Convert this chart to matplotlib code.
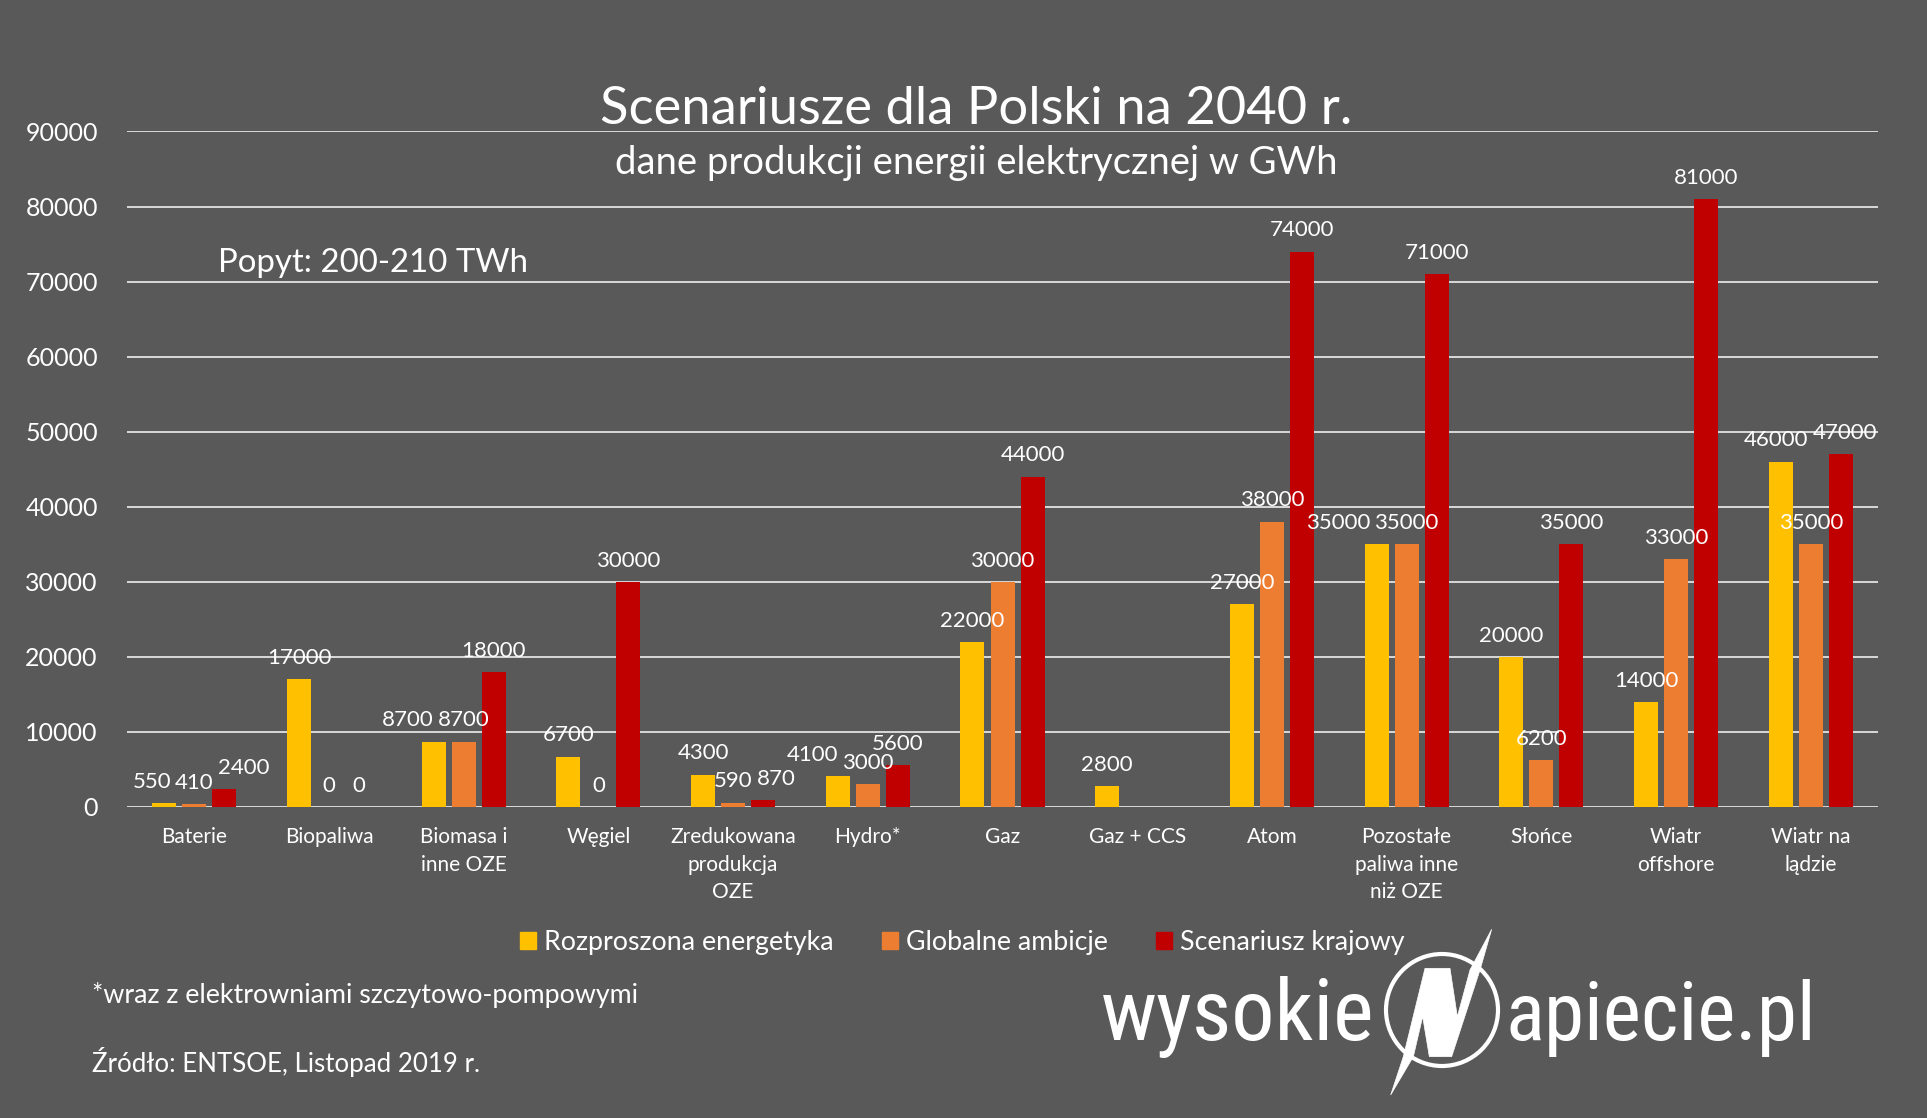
import numpy as np
import matplotlib
matplotlib.use('Agg')
import matplotlib.pyplot as plt
from matplotlib import font_manager
from matplotlib.patches import Patch, Ellipse, Polygon

categories = ['Baterie', 'Biopaliwa', 'Biomasa i\ninne OZE', 'Węgiel',
              'Zredukowana\nprodukcja\nOZE', 'Hydro*', 'Gaz', 'Gaz + CCS',
              'Atom', 'Pozostałe\npaliwa inne\nniż OZE', 'Słońce',
              'Wiatr\noffshore', 'Wiatr na\nlądzie']
series_names = ['Rozproszona energetyka', 'Globalne ambicje', 'Scenariusz krajowy']
rozproszona = [550, 17000, 8700, 6700, 4300, 4100, 22000, 2800, 27000,
               35000, 20000, 14000, 46000]
globalne = [410, 0, 8700, 0, 590, 3000, 30000, np.nan, 38000,
            35000, 6200, 33000, 35000]
krajowy = [2400, 0, 18000, 30000, 870, 5600, 44000, np.nan, 74000,
           71000, 35000, 81000, 47000]
y_ticks = [0, 10000, 20000, 30000, 40000, 50000, 60000, 70000, 80000, 90000]

BG = '#595959'
COLORS = ['#FFC000', '#ED7D31', '#C00000']
GRID = '#D9D9D9'
FONT = 'Lato'

names = {f.name for f in font_manager.fontManager.ttflist}
logo_font, logo_stretch = 'Roboto', 'normal'
for cand in ('Liberation Sans Narrow', 'Roboto Condensed', 'Open Sans Condensed'):
    if cand in names:
        logo_font = cand
        break
else:
    if any(f.name == 'DejaVu Sans' and f.stretch == 'condensed'
           for f in font_manager.fontManager.ttflist):
        logo_font, logo_stretch = 'DejaVu Sans', 'condensed'

plt.rcParams['font.family'] = [FONT, 'DejaVu Sans']

fig = plt.figure(figsize=(19.27, 11.18), dpi=100, facecolor=BG)
ax = fig.add_axes([0.0659, 0.2782, 0.9087, 0.6042])
ax.set_facecolor(BG)

x = np.arange(len(categories))
width = 0.178
step = 0.223
series = [rozproszona, globalne, krajowy]

labels = [[None] * 3 for _ in categories]
for k, (vals, c) in enumerate(zip(series, COLORS)):
    pos = x + (k - 1) * step
    ax.bar(pos, vals, width=width, color=c, zorder=3)
    for i, (p, v) in enumerate(zip(pos, vals)):
        if np.isnan(v):
            continue
        labels[i][k] = ax.annotate('{:d}'.format(int(v)), (p, v),
                                   xytext=(0, 11), textcoords='offset points',
                                   ha='center', va='baseline', color='white',
                                   fontsize=16, zorder=4)

ax.set_xlim(-0.5, len(categories) - 0.5)
ax.set_ylim(0, 90000)
ax.set_yticks(y_ticks)
ax.set_yticklabels([str(t) for t in y_ticks])
ax.set_xticks(x)
ax.set_xticklabels(categories, linespacing=1.47)
ax.tick_params(axis='y', length=0, pad=21, labelsize=18, labelcolor='white')
ax.tick_params(axis='x', length=0, pad=14.5, labelsize=15, labelcolor='white')
ax.grid(axis='y', color=GRID, linewidth=1.4, zorder=0)
for s in ax.spines.values():
    s.set_visible(False)


def overlaps(a, b, renderer):
    ba = a.get_window_extent(renderer)
    bb = b.get_window_extent(renderer)
    if ba.y0 > bb.y1 - 4 or ba.y1 < bb.y0 + 4:
        return 0
    return max(0, ba.x1 - bb.x0 + 4)


def nudge(lab, shift):
    dx, dy = lab.xyann
    lab.xyann = (dx + shift * 72 / fig.dpi, dy)


# push overlapping value labels of the outer bars away from the middle one
fig.canvas.draw()
renderer = fig.canvas.get_renderer()
for left, mid, right in labels:
    if mid is not None:
        if left is not None:
            nudge(left, -overlaps(left, mid, renderer))
        if right is not None:
            nudge(right, overlaps(mid, right, renderer))
    if left is not None and right is not None:
        d = overlaps(left, right, renderer)
        nudge(left, -d / 2)
        nudge(right, d / 2)

fig.text(0.5065, 0.889, 'Scenariusze dla Polski na 2040 r.', ha='center',
         va='baseline', color='white', fontsize=37.8)
fig.text(0.5065, 0.844, 'dane produkcji energii elektrycznej w GWh',
         ha='center', va='baseline', color='white', fontsize=27.5)
fig.text(0.1129, 0.757, 'Popyt: 200-210 TWh', ha='left', va='baseline',
         color='white', fontsize=23.8)
fig.text(0.0478, 0.1029, '*wraz z elektrowniami szczytowo-pompowymi',
         ha='left', va='baseline', color='white', fontsize=19.3)
fig.text(0.0478, 0.041, 'Źródło: ENTSOE, Listopad 2019 r.', ha='left',
         va='baseline', color='white', fontsize=18.6)

handles = [Patch(color=c, label=n) for c, n in zip(COLORS, series_names)]
fig.legend(handles=handles, loc='center', bbox_to_anchor=(0.4994, 0.1568),
           ncol=3, frameon=False, fontsize=19.3, handlelength=0.6,
           handleheight=0.6, handletextpad=0.3, columnspacing=1.8,
           labelcolor='white')

# logo, drawn in pixel coordinates
over = fig.add_axes([0, 0, 1, 1], zorder=5)
over.set_xlim(0, 1927)
over.set_ylim(1118, 0)
over.axis('off')
cx, cy, r = 1442, 1010, 56
over.add_patch(Ellipse((cx, cy), 2 * r, 2 * r, fill=False, edgecolor='white',
                       linewidth=3))
n_shape = [(-51, -125), (24, -125), (46, 20), (84, -120), (114, -120),
           (29, 140), (-38, 140), (-58, 20), (-86, 140), (-116, 140)]
spike_top = [(84, -120), (114, -120), (149, -242)]
spike_bottom = [(-116, 140), (-86, 140), (-154, 255)]
for shape in (n_shape, spike_top, spike_bottom):
    pts = [(cx + a / 3, cy + b / 3) for a, b in shape]
    over.add_patch(Polygon(pts, closed=True, facecolor='white',
                           edgecolor='white', linewidth=0.5))

# fit the logo words to their widths in the reference
for word, xpos, ha, target in (('wysokie', 1374, 'right', 274),
                               ('apiecie.pl', 1505, 'left', 311)):
    t = over.text(xpos, 1040, word, ha=ha, va='baseline', color='white',
                  fontsize=60, family=logo_font, stretch=logo_stretch)
    w = t.get_window_extent(renderer).width
    t.set_fontsize(60 * target / w)

fig.savefig('out.png', dpi=100, facecolor=BG)
